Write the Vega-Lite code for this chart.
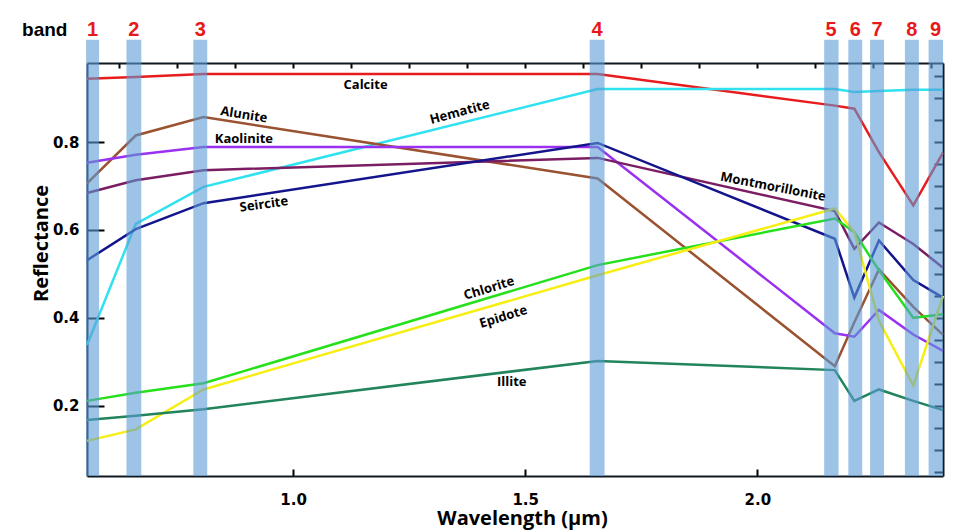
{
  "$schema": "https://vega.github.io/schema/vega-lite/v6.json",
  "width": 856,
  "height": 413,
  "autosize": {"type": "none"},
  "padding": {"left": 87, "top": 63, "right": 12, "bottom": 56},
  "background": "white",
  "config": {
    "view": {"stroke": null},
    "axis": {
      "grid": false,
      "domainColor": "#101820",
      "domainWidth": 2,
      "labelFont": "DejaVu Sans",
      "labelFontWeight": "bold",
      "labelFontSize": 15,
      "labelColor": "black",
      "titleFont": "Open Sans",
      "titleFontWeight": "bold",
      "titleFontSize": 20,
      "titleColor": "black"
    }
  },
  "datasets": {
    "spectra": [
      {"mineral": "Calcite", "w": 0.556, "r": 0.944},
      {"mineral": "Calcite", "w": 0.661, "r": 0.948},
      {"mineral": "Calcite", "w": 0.807, "r": 0.955},
      {"mineral": "Calcite", "w": 1.656, "r": 0.955},
      {"mineral": "Calcite", "w": 2.167, "r": 0.883},
      {"mineral": "Calcite", "w": 2.209, "r": 0.876},
      {"mineral": "Calcite", "w": 2.262, "r": 0.777},
      {"mineral": "Calcite", "w": 2.336, "r": 0.656},
      {"mineral": "Calcite", "w": 2.4, "r": 0.776},
      {"mineral": "Hematite", "w": 0.556, "r": 0.338},
      {"mineral": "Hematite", "w": 0.661, "r": 0.614},
      {"mineral": "Hematite", "w": 0.807, "r": 0.698},
      {"mineral": "Hematite", "w": 1.656, "r": 0.921},
      {"mineral": "Hematite", "w": 2.167, "r": 0.921},
      {"mineral": "Hematite", "w": 2.209, "r": 0.914},
      {"mineral": "Hematite", "w": 2.262, "r": 0.916},
      {"mineral": "Hematite", "w": 2.336, "r": 0.919},
      {"mineral": "Hematite", "w": 2.4, "r": 0.919},
      {"mineral": "Alunite", "w": 0.556, "r": 0.706},
      {"mineral": "Alunite", "w": 0.661, "r": 0.815},
      {"mineral": "Alunite", "w": 0.807, "r": 0.857},
      {"mineral": "Alunite", "w": 1.656, "r": 0.717},
      {"mineral": "Alunite", "w": 2.167, "r": 0.29},
      {"mineral": "Alunite", "w": 2.209, "r": 0.39},
      {"mineral": "Alunite", "w": 2.262, "r": 0.51},
      {"mineral": "Alunite", "w": 2.336, "r": 0.425},
      {"mineral": "Alunite", "w": 2.4, "r": 0.361},
      {"mineral": "Kaolinite", "w": 0.556, "r": 0.753},
      {"mineral": "Kaolinite", "w": 0.661, "r": 0.771},
      {"mineral": "Kaolinite", "w": 0.807, "r": 0.789},
      {"mineral": "Kaolinite", "w": 1.656, "r": 0.789},
      {"mineral": "Kaolinite", "w": 2.167, "r": 0.365},
      {"mineral": "Kaolinite", "w": 2.209, "r": 0.357},
      {"mineral": "Kaolinite", "w": 2.262, "r": 0.418},
      {"mineral": "Kaolinite", "w": 2.336, "r": 0.362},
      {"mineral": "Kaolinite", "w": 2.4, "r": 0.325},
      {"mineral": "Montmorillonite", "w": 0.556, "r": 0.684},
      {"mineral": "Montmorillonite", "w": 0.661, "r": 0.713},
      {"mineral": "Montmorillonite", "w": 0.807, "r": 0.736},
      {"mineral": "Montmorillonite", "w": 1.656, "r": 0.764},
      {"mineral": "Montmorillonite", "w": 2.167, "r": 0.643},
      {"mineral": "Montmorillonite", "w": 2.209, "r": 0.557},
      {"mineral": "Montmorillonite", "w": 2.262, "r": 0.617},
      {"mineral": "Montmorillonite", "w": 2.336, "r": 0.568},
      {"mineral": "Montmorillonite", "w": 2.4, "r": 0.514},
      {"mineral": "Seircite", "w": 0.556, "r": 0.531},
      {"mineral": "Seircite", "w": 0.661, "r": 0.602},
      {"mineral": "Seircite", "w": 0.807, "r": 0.661},
      {"mineral": "Seircite", "w": 1.656, "r": 0.798},
      {"mineral": "Seircite", "w": 2.167, "r": 0.58},
      {"mineral": "Seircite", "w": 2.209, "r": 0.446},
      {"mineral": "Seircite", "w": 2.262, "r": 0.576},
      {"mineral": "Seircite", "w": 2.336, "r": 0.486},
      {"mineral": "Seircite", "w": 2.4, "r": 0.446},
      {"mineral": "Chlorite", "w": 0.556, "r": 0.211},
      {"mineral": "Chlorite", "w": 0.661, "r": 0.2295},
      {"mineral": "Chlorite", "w": 0.807, "r": 0.251},
      {"mineral": "Chlorite", "w": 1.656, "r": 0.52},
      {"mineral": "Chlorite", "w": 2.167, "r": 0.626},
      {"mineral": "Chlorite", "w": 2.209, "r": 0.595},
      {"mineral": "Chlorite", "w": 2.262, "r": 0.508},
      {"mineral": "Chlorite", "w": 2.336, "r": 0.4},
      {"mineral": "Chlorite", "w": 2.4, "r": 0.408},
      {"mineral": "Epidote", "w": 0.556, "r": 0.12},
      {"mineral": "Epidote", "w": 0.661, "r": 0.146},
      {"mineral": "Epidote", "w": 0.807, "r": 0.237},
      {"mineral": "Epidote", "w": 1.656, "r": 0.497},
      {"mineral": "Epidote", "w": 2.167, "r": 0.649},
      {"mineral": "Epidote", "w": 2.209, "r": 0.595},
      {"mineral": "Epidote", "w": 2.262, "r": 0.393},
      {"mineral": "Epidote", "w": 2.336, "r": 0.246},
      {"mineral": "Epidote", "w": 2.4, "r": 0.45},
      {"mineral": "Illite", "w": 0.556, "r": 0.1675},
      {"mineral": "Illite", "w": 0.661, "r": 0.177},
      {"mineral": "Illite", "w": 0.807, "r": 0.192},
      {"mineral": "Illite", "w": 1.656, "r": 0.302},
      {"mineral": "Illite", "w": 2.167, "r": 0.281},
      {"mineral": "Illite", "w": 2.209, "r": 0.211},
      {"mineral": "Illite", "w": 2.262, "r": 0.237},
      {"mineral": "Illite", "w": 2.336, "r": 0.211},
      {"mineral": "Illite", "w": 2.4, "r": 0.19}
    ],
    "bands": [
      {"band": "1", "lo": 0.554, "hi": 0.582, "c": 0.568},
      {"band": "2", "lo": 0.641, "hi": 0.673, "c": 0.657},
      {"band": "3", "lo": 0.785, "hi": 0.815, "c": 0.8},
      {"band": "4", "lo": 1.639, "hi": 1.671, "c": 1.655},
      {"band": "5", "lo": 2.144, "hi": 2.175, "c": 2.159},
      {"band": "6", "lo": 2.196, "hi": 2.226, "c": 2.211},
      {"band": "7", "lo": 2.243, "hi": 2.273, "c": 2.258},
      {"band": "8", "lo": 2.318, "hi": 2.348, "c": 2.333},
      {"band": "9", "lo": 2.369, "hi": 2.4, "c": 2.384}
    ],
    "labels": [
      {"label": "Calcite", "w": 1.156, "r": 0.93},
      {"label": "Hematite", "w": 1.359, "r": 0.868},
      {"label": "Alunite", "w": 0.894, "r": 0.862},
      {"label": "Kaolinite", "w": 0.894, "r": 0.808},
      {"label": "Seircite", "w": 0.937, "r": 0.658},
      {"label": "Montmorillonite", "w": 2.034, "r": 0.698},
      {"label": "Chlorite", "w": 1.422, "r": 0.467},
      {"label": "Epidote", "w": 1.453, "r": 0.402},
      {"label": "Illite", "w": 1.471, "r": 0.253}
    ]
  },
  "resolve": {"axis": {"x": "independent", "y": "independent"}},
  "layer": [
    {
      "data": {"name": "spectra"},
      "mark": {"type": "line", "strokeWidth": 2.5},
      "encoding": {
        "x": {"field": "w", "type": "quantitative",
              "scale": {"domain": [0.556, 2.4], "nice": false, "zero": false},
              "axis": {"orient": "top", "values": [0.625, 0.75, 0.875, 1.0, 1.125, 1.25, 1.375, 1.5, 1.625, 1.75, 1.875, 2.0, 2.125, 2.25, 2.375], "ticks": true, "tickSize": -5, "tickColor": "#000000", "tickWidth": 2, "labels": false, "domain": true, "title": null}},
        "y": {"field": "r", "type": "quantitative",
              "scale": {"domain": [0.04, 0.98], "nice": false, "zero": false},
              "axis": {"orient": "right", "values": [0.05, 0.1, 0.15, 0.2, 0.25, 0.3, 0.35, 0.4, 0.45, 0.5, 0.55, 0.6, 0.65, 0.7, 0.75, 0.8, 0.85, 0.9, 0.95], "ticks": true, "tickSize": -9, "tickColor": "#000000", "tickWidth": 2, "labels": false, "domain": true, "title": null}},
        "color": {"field": "mineral", "type": "nominal", "legend": null,
                  "scale": {"domain": ["Calcite", "Hematite", "Alunite", "Kaolinite", "Montmorillonite", "Seircite", "Chlorite", "Epidote", "Illite"],
                            "range": ["#e81c1c", "#30e2f0", "#9a5230", "#9a30f0", "#7a1d63", "#14148c", "#26e01c", "#f7ee14", "#21845a"]}}
      }
    },
    {
      "data": {"name": "bands"},
      "mark": {"type": "rect", "color": "#5b9bd5", "opacity": 0.6},
      "encoding": {
        "x": {"field": "lo", "type": "quantitative", "scale": {"domain": [0.556, 2.4], "nice": false, "zero": false},
              "axis": {"orient": "bottom", "values": [1.0, 1.5, 2.0], "ticks": true, "tickSize": -7, "tickColor": "#000000", "tickWidth": 2, "domain": true, "labels": true, "labelPadding": 23, "format": ".1f",
                       "title": "Wavelength (µm)", "titleX": 435, "titleY": 48, "titleAlign": "center", "titleBaseline": "alphabetic"}},
        "x2": {"field": "hi"},
        "y": {"datum": 0.04, "type": "quantitative", "scale": {"domain": [0.04, 0.98], "nice": false, "zero": false}, "axis": null},
        "y2": {"datum": 1.0327}
      }
    },
    {
      "data": {"name": "bands"},
      "mark": {"type": "text", "color": "#e8191b", "font": "Liberation Sans", "fontWeight": "bold", "fontSize": 20, "baseline": "middle", "align": "center"},
      "encoding": {
        "x": {"field": "c", "type": "quantitative", "scale": {"domain": [0.556, 2.4], "nice": false, "zero": false}, "axis": null},
        "y": {"datum": 1.054, "type": "quantitative", "scale": {"domain": [0.04, 0.98], "nice": false, "zero": false}, "axis": null},
        "text": {"field": "band"}
      }
    },
    {
      "data": {"values": [{"t": "band"}]},
      "mark": {"type": "text", "color": "black", "font": "Liberation Sans", "fontWeight": "bold", "fontSize": 19, "baseline": "middle", "align": "center"},
      "encoding": {
        "x": {"datum": 0.465, "type": "quantitative", "scale": {"domain": [0.556, 2.4], "nice": false, "zero": false}, "axis": null},
        "y": {"datum": 1.054, "type": "quantitative", "scale": {"domain": [0.04, 0.98], "nice": false, "zero": false}, "axis": null},
        "text": {"field": "t"}
      }
    },
    {
      "data": {"name": "labels"},
      "mark": {"type": "text", "color": "black", "font": "Open Sans", "fontWeight": "bold", "fontSize": 13, "baseline": "middle", "align": "center"},
      "encoding": {
        "x": {"field": "w", "type": "quantitative", "scale": {"domain": [0.556, 2.4], "nice": false, "zero": false}, "axis": null},
        "y": {"field": "r", "type": "quantitative", "scale": {"domain": [0.04, 0.98], "nice": false, "zero": false},
              "axis": {"orient": "left", "values": [0.2, 0.4, 0.6, 0.8], "ticks": true, "tickSize": -17, "tickColor": "#000000", "tickWidth": 2, "domain": true, "labels": true, "labelPadding": 25, "format": ".1f",
                       "title": "Reflectance", "titleX": -40, "titleY": 180, "titleAngle": 270, "titleAlign": "center", "titleBaseline": "alphabetic"}},
        "text": {"field": "label"},
        "angle": {
          "condition": [
            {"test": "datum.label === 'Hematite'", "value": 345},
            {"test": "datum.label === 'Alunite'", "value": 9},
            {"test": "datum.label === 'Seircite'", "value": 352},
            {"test": "datum.label === 'Montmorillonite'", "value": 11},
            {"test": "datum.label === 'Chlorite' || datum.label === 'Epidote'", "value": 343}
          ],
          "value": 0
        }
      }
    }
  ]
}
